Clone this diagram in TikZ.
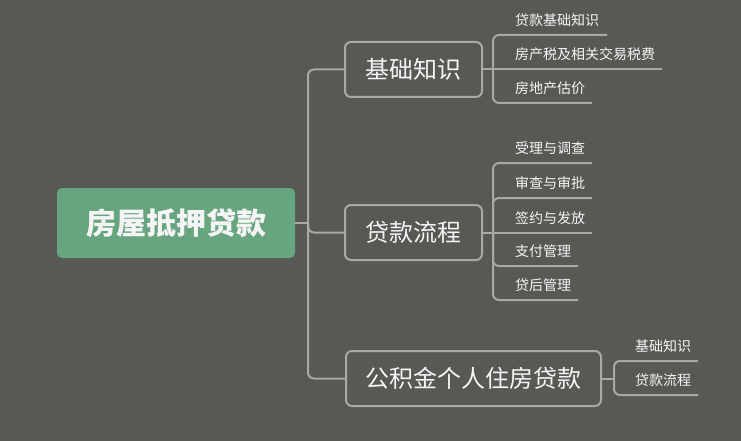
\documentclass[tikz,border=0pt]{standalone}
\usepackage{fontspec}
\setmainfont{Noto Sans CJK SC}
\begin{document}
\begin{tikzpicture}[x=1pt,y=-1pt,
  every node/.style={text=white!96!black, inner sep=0pt},
  rootbox/.style={fill=rootgreen, rounded corners=5pt, minimum width=238pt, minimum height=70pt, font=\fontsize{30}{34}\selectfont\bfseries},
  topicbox/.style={draw=linegray, line width=2pt, rounded corners=6pt, minimum height=55pt, font=\fontsize{24}{28}\selectfont},
  subtext/.style={anchor=base west, font=\fontsize{14}{17}\selectfont},
  conn/.style={draw=linegray, line width=2pt, rounded corners=6pt}
]
\definecolor{bg}{RGB}{88,89,85}
\definecolor{rootgreen}{RGB}{102,165,125}
\definecolor{linegray}{RGB}{168,168,164}
\useasboundingbox (0,0) rectangle (741,441);
\fill[bg] (0,0) rectangle (741,441);

% root and topics
\node[rootbox] (root) at (176,223) {房屋抵押贷款};
\node[topicbox, minimum width=137pt] (t1) at (413.5,69.5) {基础知识};
\node[topicbox, minimum width=137pt] (t2) at (413.5,232.5) {贷款流程};
\node[topicbox, minimum width=255pt] (t3) at (473.5,378.5) {公积金个人住房贷款};

% trunk
\coordinate (j) at (308,223);
\draw[conn] (root.east) -- (j);
\draw[conn] (j) |- (t1.west);
\draw[conn] (j) |- (t2.west);
\draw[conn] (j) |- (t3.west);

% topic 1 subtopics
\coordinate (b1) at (493,69.5);
\coordinate (e11) at (607,35);
\coordinate (e12) at (662,69.5);
\coordinate (e13) at (592,103);
\node[subtext] (s11) at (515,25.5) {贷款基础知识};
\node[subtext] (s12) at (515,60) {房产税及相关交易税费};
\node[subtext] (s13) at (515,93.5) {房地产估价};
\draw[conn] (t1.east) -- (b1);
\draw[conn] (b1) |- (e11);
\draw[conn] (b1) -- (e12);
\draw[conn] (b1) |- (e13);

% topic 2 subtopics
\coordinate (b2) at (493,232.5);
\coordinate (e21) at (592,163);
\coordinate (e22) at (592,198);
\coordinate (e23) at (592,232.5);
\coordinate (e24) at (578,266);
\coordinate (e25) at (578,300);
\node[subtext] (s21) at (515,153.5) {受理与调查};
\node[subtext] (s22) at (515,188.5) {审查与审批};
\node[subtext] (s23) at (515,223) {签约与发放};
\node[subtext] (s24) at (515,256.5) {支付管理};
\node[subtext] (s25) at (515,290.5) {贷后管理};
\draw[conn] (t2.east) -- (b2);
\draw[conn] (b2) |- (e21);
\draw[conn] (b2) |- (e22);
\draw[conn] (b2) -- (e23);
\draw[conn] (b2) |- (e24);
\draw[conn] (b2) |- (e25);

% topic 3 subtopics
\coordinate (b3) at (614,378.5);
\coordinate (e31) at (698,361);
\coordinate (e32) at (698,395);
\node[subtext] (s31) at (635,351.5) {基础知识};
\node[subtext] (s32) at (635,385.5) {贷款流程};
\draw[conn] (t3.east) -- (b3);
\draw[conn] (b3) |- (e31);
\draw[conn] (b3) |- (e32);
\end{tikzpicture}
\end{document}
